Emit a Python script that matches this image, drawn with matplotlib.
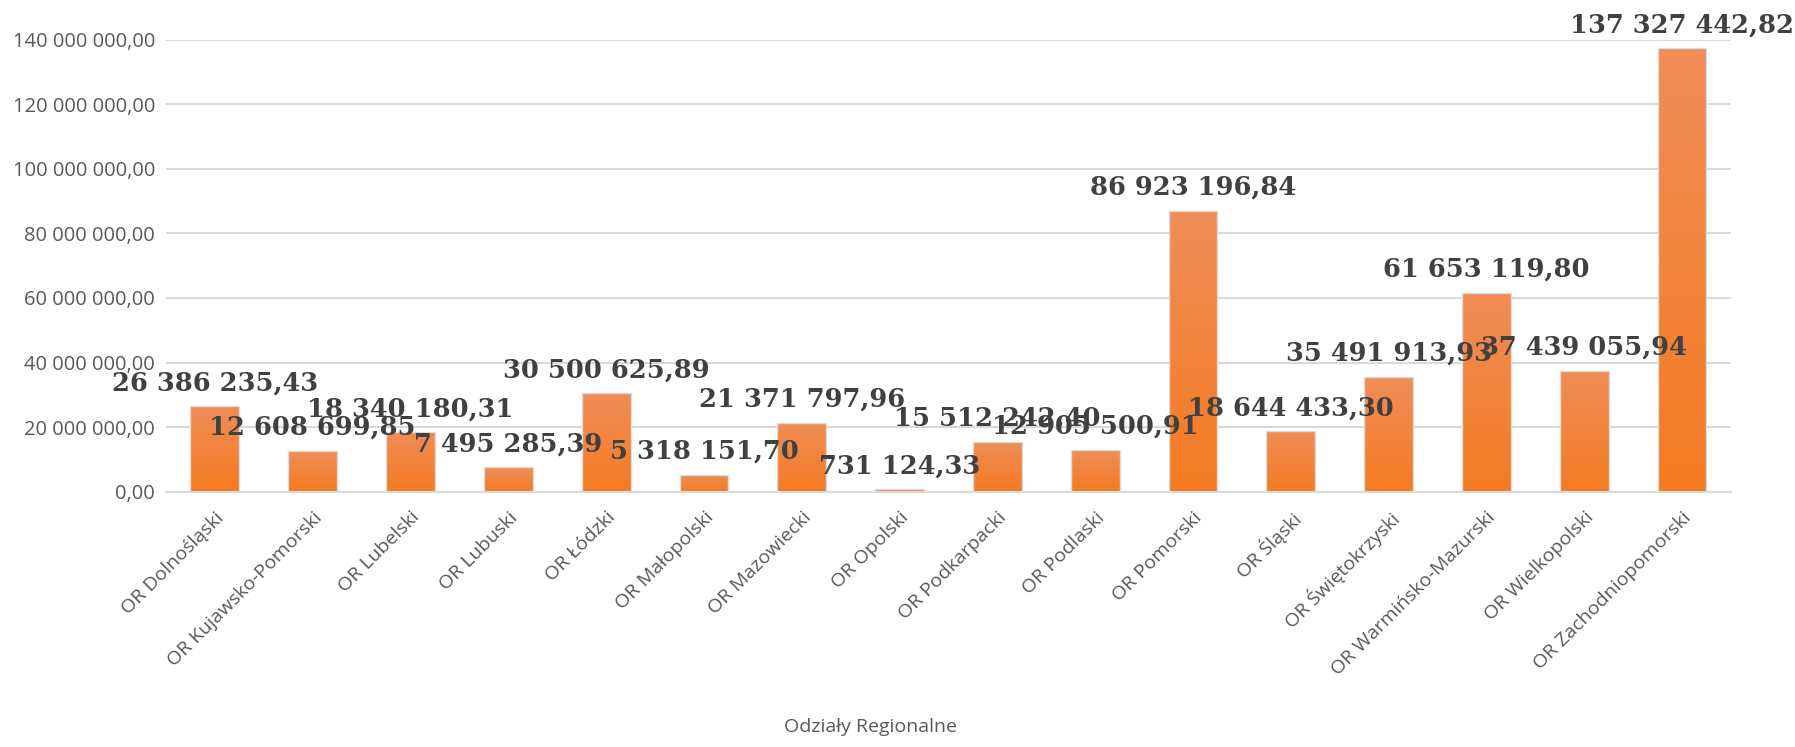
import matplotlib.pyplot as plt
import numpy as np
from matplotlib.colors import LinearSegmentedColormap

# data
regions = ['OR Dolnośląski', 'OR Kujawsko-Pomorski', 'OR Lubelski', 'OR Lubuski', 'OR Łódzki',
           'OR Małopolski', 'OR Mazowiecki', 'OR Opolski', 'OR Podkarpacki', 'OR Podlaski',
           'OR Pomorski', 'OR Śląski', 'OR Świętokrzyski', 'OR Warmińsko-Mazurski',
           'OR Wielkopolski', 'OR Zachodniopomorski']
values = [26386235.43, 12608699.85, 18340180.31, 7495285.39, 30500625.89,
          5318151.70, 21371797.96, 731124.33, 15512242.40, 12905500.91,
          86923196.84, 18644433.30, 35491913.93, 61653119.80,
          37439055.94, 137327442.82]
yticks = [0, 20e6, 40e6, 60e6, 80e6, 100e6, 120e6, 140e6]
xlabel = 'Odziały Regionalne'


def pl_format(v):
    """Polish number format: space thousands separator, comma decimals"""
    s = '{:,.2f}'.format(v)
    return s.replace(',', ' ').replace('.', ',')


plt.rcParams['font.family'] = ['Open Sans', 'DejaVu Sans']

figure = plt.figure(figsize=(17.95, 7.47), dpi=100)
ax = figure.add_axes([0.0925, 0.3418, 0.9643 - 0.0925, 0.9469 - 0.3418])

x = np.arange(len(regions))
bars = ax.bar(x, values, width=0.5, color='none', edgecolor='#dcdcdc', linewidth=1, zorder=3)

# gradient fill for each bar
grad_cmap = LinearSegmentedColormap.from_list('og', ['#f47b22', '#f08d57'])
gradient = np.linspace(0, 1, 256).reshape(-1, 1)
for bar in bars:
    bx, bw, bh = bar.get_x(), bar.get_width(), bar.get_height()
    im = ax.imshow(gradient, cmap=grad_cmap, origin='lower', aspect='auto',
                   extent=[bx, bx + bw, 0, bh], zorder=2)
    im.set_clip_path(bar)

# data labels
for xi, v in zip(x, values):
    ax.annotate(pl_format(v), (xi, v), xytext=(0, 17), textcoords='offset points',
                ha='center', va='center', fontsize=18.5, fontweight='bold',
                family='DejaVu Serif', color='#404040', zorder=5)

ax.set_xlim(-0.5, len(regions) - 0.5)
ax.set_ylim(0, 140e6)
ax.set_yticks(yticks)
ax.set_yticklabels([pl_format(t) for t in yticks])
ax.grid(axis='y', color='#d9d9d9', linewidth=1.5, zorder=0)
ax.set_axisbelow(True)

for side in ['top', 'right', 'left']:
    ax.spines[side].set_visible(False)
ax.spines['bottom'].set_color('#d9d9d9')
ax.spines['bottom'].set_linewidth(1.5)

ax.set_xticks(x)
ax.set_xticklabels(regions, rotation=45, ha='right', rotation_mode='anchor')
ax.tick_params(axis='both', length=0, labelcolor='#595959')
ax.tick_params(axis='x', pad=12, labelsize=14)
ax.tick_params(axis='y', pad=8, labelsize=14.5)

figure.text(0.485, 0.015, xlabel, ha='center', va='bottom', fontsize=14, color='#595959')

figure.savefig('out.png', dpi=100)
print("end")
